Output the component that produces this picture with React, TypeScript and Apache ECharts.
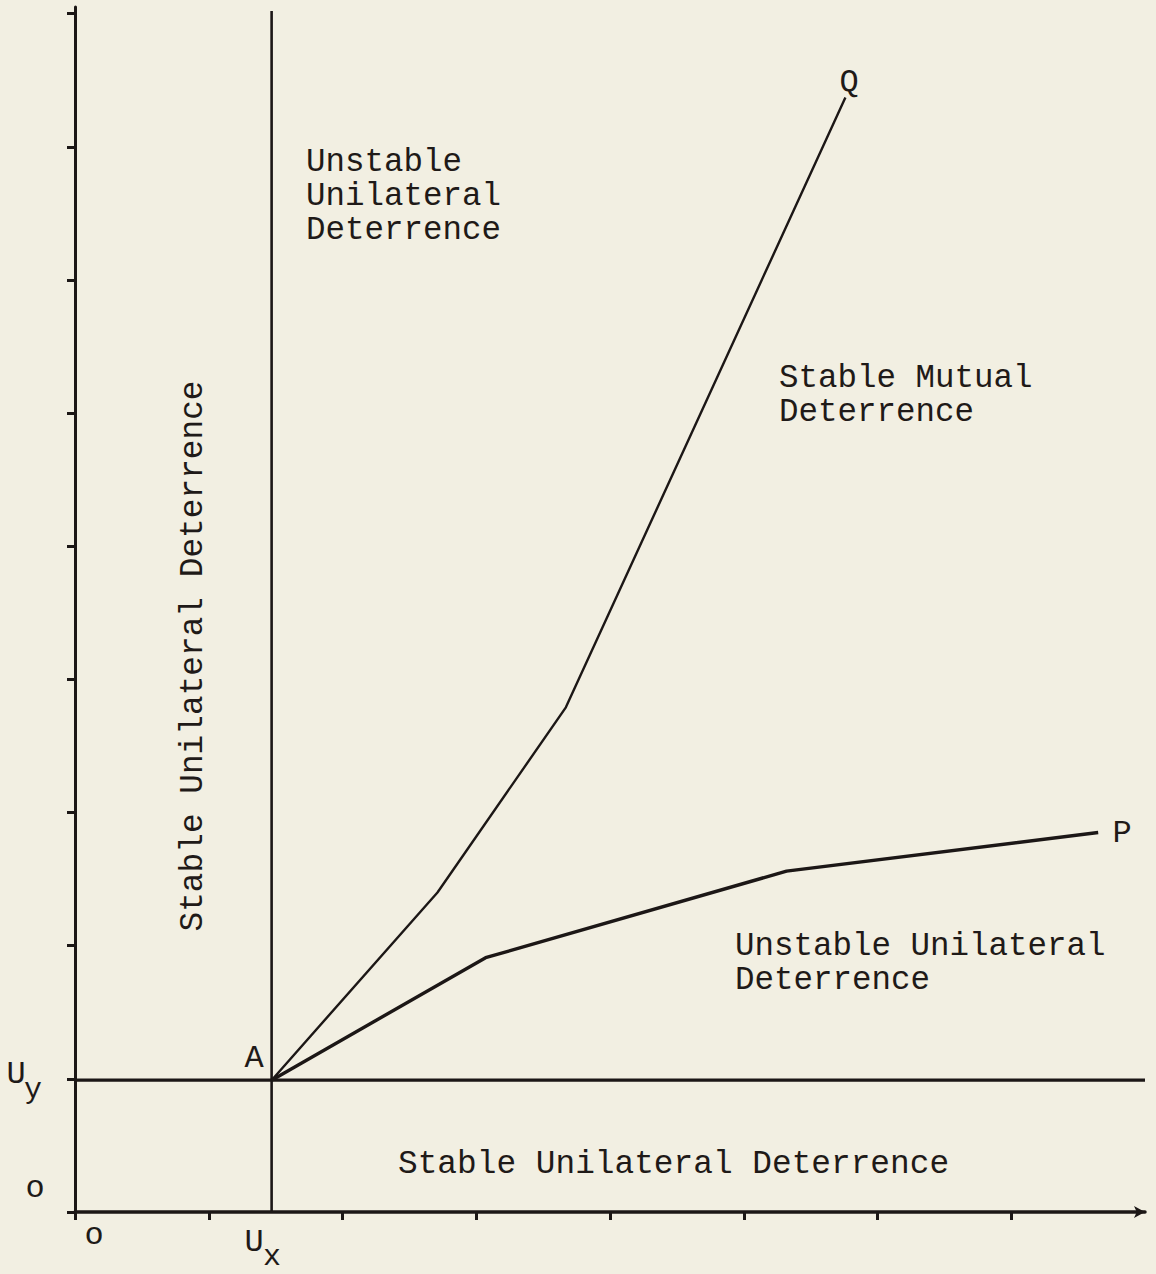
import React, { useEffect, useRef } from "react";
import * as echarts from "echarts";

// Axis ticks (unit steps of the drawing's scale)
const X_TICKS = [0, 1, 2, 3, 4, 5, 6, 7];
const Y_TICKS = [0, 1, 2, 3, 4, 5, 6, 7, 8, 9];

// Thresholds
const UX = 1.47;
const UY = 0.99;

// Boundary curves starting at A = (UX, UY)
const Q_CURVE: [number, number][] = [
  [1.47, 0.99],
  [2.71, 2.4],
  [3.67, 3.79],
  [5.76, 8.37],
];
const P_CURVE: [number, number][] = [
  [1.47, 0.99],
  [3.07, 1.91],
  [5.32, 2.56],
  [7.65, 2.85],
];

// Threshold line extents
const UX_LINE: [number, number][] = [
  [UX, 0],
  [UX, 9.02],
];
const UY_LINE: [number, number][] = [
  [0, UY],
  [8, UY],
];

const INK = "#1c1716";
const TEXT = "#1f1a18";
const MONO = '"Liberation Mono", "Courier New", monospace';

function txt(x: number, y: number, text: string, size: number, extra: any = {}) {
  return {
    type: "text",
    x,
    y,
    rotation: extra.rotation || 0,
    style: {
      text,
      fill: TEXT,
      fontSize: size,
      fontFamily: MONO,
      lineHeight: extra.lineHeight || size,
      align: extra.align || "left",
      verticalAlign: "middle",
      textAlign: extra.align || "left",
      textVerticalAlign: "middle",
    },
  };
}

export default function App() {
  const ref = useRef<HTMLDivElement>(null);
  useEffect(() => {
    if (!ref.current) return;
    const chart = echarts.init(ref.current, undefined, { renderer: "svg" });
    chart.setOption({
      animation: false,
      backgroundColor: "#f2efe2",
      grid: { left: 75, right: 11, top: 7, bottom: 62, containLabel: false },
      xAxis: {
        type: "value",
        min: 0,
        max: 8,
        interval: 1,
        axisLine: {
          show: true,
          lineStyle: { color: INK, width: 3.5 },
          symbol: ["none", "arrow"],
          symbolSize: [9, 11],
        },
        axisTick: {
          show: true,
          inside: false,
          length: 8,
          customValues: X_TICKS,
          lineStyle: { color: INK, width: 3 },
        },
        axisLabel: { show: false },
        splitLine: { show: false },
      },
      yAxis: {
        type: "value",
        min: 0,
        max: 9.05,
        axisLine: { show: true, lineStyle: { color: INK, width: 3 } },
        axisTick: {
          show: true,
          inside: false,
          length: 8,
          customValues: Y_TICKS,
          lineStyle: { color: INK, width: 3 },
        },
        axisLabel: { show: false },
        splitLine: { show: false },
      },
      series: [
        {
          type: "line",
          data: UX_LINE,
          symbol: "none",
          lineStyle: { color: INK, width: 2.6 },
        },
        {
          type: "line",
          data: UY_LINE,
          symbol: "none",
          lineStyle: { color: INK, width: 3.2 },
        },
        {
          type: "line",
          data: Q_CURVE,
          symbol: "none",
          lineStyle: { color: INK, width: 2.4 },
        },
        {
          type: "line",
          data: P_CURVE,
          symbol: "none",
          lineStyle: { color: INK, width: 3.4 },
        },
      ],
      graphic: [
        txt(306, 196, "Unstable\nUnilateral\nDeterrence", 32.5, { lineHeight: 34 }),
        txt(779, 395, "Stable Mutual\nDeterrence", 32.5, { lineHeight: 34 }),
        txt(735, 963, "Unstable Unilateral\nDeterrence", 32.5, { lineHeight: 34 }),
        txt(398, 1164, "Stable Unilateral Deterrence", 32.8),
        txt(193, 656, "Stable Unilateral Deterrence", 32.8, {
          align: "center",
          rotation: Math.PI / 2,
        }),
        txt(849, 82, "Q", 32, { align: "center" }),
        txt(1122, 833, "P", 32, { align: "center" }),
        txt(254, 1058, "A", 32, { align: "center" }),
        txt(16, 1074, "U", 32, { align: "center" }),
        txt(33, 1090, "y", 30, { align: "center" }),
        txt(35, 1188, "o", 32, { align: "center" }),
        txt(94, 1235, "o", 32, { align: "center" }),
        txt(254, 1242, "U", 32, { align: "center" }),
        txt(272, 1257, "x", 30, { align: "center" }),
      ],
    });
    return () => chart.dispose();
  }, []);
  return (
    <div
      ref={ref}
      style={{ position: "absolute", left: 0, top: 0, width: 1156, height: 1274 }}
    />
  );
}
